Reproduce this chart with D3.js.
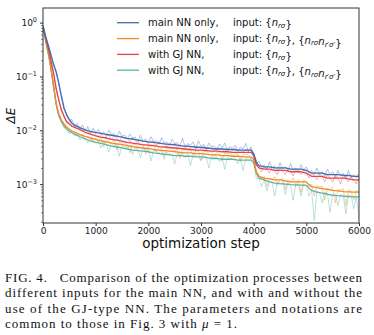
<!DOCTYPE html>
<html><head><meta charset="utf-8">
<script src="https://cdn.jsdelivr.net/npm/d3@7"></script>
<style>
html,body{margin:0;padding:0;background:#fff;}
svg{display:block;}
.cap{font-family:'Liberation Serif','Times New Roman',serif;}
</style></head>
<body>
<svg id="chart" width="374" height="335"></svg>
<script>
// ---------- data ----------
const seriesNames = ["main NN only, input n", "main NN only, input n, nn", "with GJ NN, input n", "with GJ NN, input n, nn"];
const xTicks = [0, 1000, 2000, 3000, 4000, 5000, 6000];
const yMajorTicks = [1, 0.1, 0.01, 0.001];
const yTickExponents = ["0", "\u22121", "\u22122", "\u22123"];

const smoothSteps = [0,50,100,150,200,250,300,350,400,450,500,550,600,700,800,900,1000,1100,1200,1300,1400,1500,1600,1700,1800,1900,2000,2100,2200,2300,2400,2500,2600,2700,2800,2900,3000,3100,3200,3300,3400,3500,3600,3700,3800,3900,3950,4000,4050,4100,4200,4300,4400,4500,4600,4700,4800,4900,5000,5050,5100,5200,5300,5400,5500,5600,5700,5800,5900,6000];

const smoothBlue = [0.85,0.55,0.38,0.25,0.17,0.12,0.075,0.042,0.026,0.019,0.016,0.0135,0.0125,0.0112,0.0102,0.0096,0.0092,0.0088,0.0084,0.0081,0.0078,0.0075,0.0071,0.0069,0.0066,0.0063,0.0061,0.0060,0.0058,0.0056,0.0055,0.0054,0.0052,0.0051,0.0050,0.0049,0.0048,0.0047,0.0046,0.0045,0.0045,0.0044,0.0044,0.0043,0.0043,0.0043,0.0043,0.0037,0.0026,0.0022,0.0021,0.0021,0.0020,0.0020,0.0020,0.0019,0.0019,0.0019,0.0018,0.0017,0.0016,0.0016,0.0016,0.0015,0.0015,0.0015,0.00145,0.00145,0.0014,0.0014];
const smoothOrange = [0.85,0.48,0.28,0.15,0.07,0.032,0.02,0.0155,0.013,0.0115,0.0105,0.0097,0.0092,0.0083,0.0077,0.0072,0.0068,0.0064,0.0061,0.0058,0.0056,0.0054,0.0052,0.0050,0.0048,0.0047,0.0046,0.0044,0.0043,0.0042,0.0041,0.0040,0.0039,0.0038,0.0038,0.0037,0.0037,0.0036,0.0035,0.0035,0.0034,0.0034,0.0033,0.0033,0.0032,0.0032,0.0032,0.0029,0.0017,0.0014,0.0013,0.00125,0.0012,0.0012,0.00115,0.0011,0.0011,0.0011,0.0011,0.00098,0.0009,0.00086,0.00083,0.0008,0.00077,0.00075,0.00073,0.00072,0.00071,0.00071];
const smoothRed = [0.85,0.52,0.34,0.2,0.115,0.06,0.036,0.024,0.018,0.0145,0.013,0.012,0.0113,0.0103,0.0092,0.0085,0.0079,0.0075,0.0072,0.0068,0.0066,0.0063,0.0060,0.0058,0.0056,0.0054,0.0053,0.0052,0.0050,0.0049,0.0048,0.0047,0.0046,0.0045,0.0044,0.0043,0.0043,0.0042,0.0041,0.0041,0.0040,0.0040,0.0039,0.0039,0.0039,0.0039,0.0039,0.0034,0.0023,0.0020,0.0019,0.0019,0.0018,0.0018,0.0018,0.0017,0.0017,0.0017,0.0016,0.0015,0.0014,0.0014,0.0014,0.0013,0.0013,0.0013,0.0013,0.00125,0.0012,0.0012];
const smoothTeal = [0.85,0.47,0.27,0.14,0.065,0.03,0.019,0.0145,0.012,0.0105,0.0096,0.009,0.0085,0.0076,0.0069,0.0064,0.0060,0.0057,0.0054,0.0051,0.0049,0.0047,0.0045,0.0043,0.0042,0.0041,0.0040,0.0038,0.0037,0.0036,0.0035,0.0034,0.0034,0.0033,0.0033,0.0032,0.0032,0.0031,0.0030,0.0030,0.0029,0.0029,0.0029,0.0028,0.0028,0.0028,0.0028,0.0025,0.0016,0.0013,0.0012,0.0011,0.00105,0.00102,0.001,0.00098,0.00097,0.00096,0.00095,0.00085,0.00077,0.00071,0.00068,0.00065,0.00062,0.00061,0.0006,0.00059,0.00058,0.00058];

const rawSteps = d3.range(0, 6001, 50);
const rawBlue = [0.9,0.6,0.36,0.27,0.16,0.13,0.07,0.046,0.024,0.021,0.015,0.016,0.0115,0.0135,0.0105,0.0125,0.0096,0.0118,0.009,0.011,
  0.0088,0.0104,0.0085,0.0093,0.0079,0.0101,0.0083,0.0087,0.0074,0.0096,0.0077,0.0082,0.0068,0.0086,0.0072,0.0075,0.0063,0.0081,0.0062,0.007,
  0.0059,0.0076,0.0063,0.0064,0.0055,0.0073,0.0058,0.0061,0.0052,0.0068,0.0057,0.0059,0.005,0.0071,0.0049,0.0057,0.0053,0.0061,0.0046,0.0064,
  0.005,0.0055,0.0045,0.0058,0.0049,0.0052,0.0043,0.0056,0.0047,0.0058,0.0042,0.005,0.0046,0.0053,0.0041,0.0049,0.0045,0.0057,0.004,0.0049,
  0.0036,0.0024,0.0027,0.0021,0.0023,0.0019,0.0026,0.0020,0.0022,0.0018,0.0025,0.0019,0.0021,0.0018,0.0024,0.0018,0.0020,0.0017,0.0023,0.0018,0.0021,0.0016,0.0018,0.0015,0.002,0.0015,0.0017,0.0014,0.0019,0.0015,0.0017,0.0013,0.0018,0.0014,0.0016,0.0013,0.0018,0.0013,0.0015,0.0013,0.0016];
const rawOrange = [0.85,0.45,0.3,0.14,0.075,0.03,0.021,0.014,0.0135,0.011,0.0108,0.0088,0.0098,0.0084,0.0076,0.0086,0.0068,0.0078,0.0073,0.0062,
  0.0071,0.0062,0.0074,0.0049,0.0065,0.0063,0.0058,0.0066,0.0043,0.006,0.0058,0.0061,0.0053,0.0038,0.0057,0.0054,0.0049,0.0055,0.0052,0.0036,
  0.0051,0.0049,0.0053,0.0041,0.0048,0.0047,0.0033,0.0047,0.0045,0.0046,0.0042,0.0045,0.003,0.0044,0.0043,0.0041,0.0043,0.0035,0.0042,0.0041,
  0.0028,0.0041,0.004,0.0039,0.0041,0.0033,0.0039,0.0038,0.0027,0.0038,0.0037,0.0038,0.0034,0.0037,0.0036,0.0026,0.0036,0.0035,0.0036,0.0031,
  0.003,0.0016,0.0015,0.0012,0.0014,0.0009,0.0013,0.0012,0.0014,0.00095,0.0012,0.0013,0.0008,0.0012,0.0011,0.0013,0.0009,0.0012,0.0007,0.0012,0.0011,0.0009,0.001,0.0006,0.00095,0.00088,0.00092,0.0005,0.00085,0.0008,0.00088,0.00045,0.0008,0.00078,0.00082,0.0004,0.00078,0.00074,0.0005,0.00076,0.00073];
const rawRed = [0.8,0.5,0.36,0.19,0.12,0.055,0.038,0.022,0.019,0.0135,0.0145,0.0115,0.0125,0.0108,0.0112,0.0096,0.0103,0.0092,0.0088,0.0094,
  0.0084,0.0074,0.0089,0.0072,0.0077,0.0083,0.0066,0.0079,0.0071,0.0064,0.0076,0.0069,0.0072,0.0061,0.0071,0.0066,0.0058,0.0069,0.0062,0.0064,
  0.0055,0.0063,0.0059,0.0053,0.0061,0.0056,0.0058,0.005,0.0056,0.0053,0.0057,0.0048,0.0053,0.0051,0.0046,0.0054,0.0049,0.0051,0.0044,0.0049,
  0.0047,0.0052,0.0043,0.0047,0.0046,0.0041,0.0048,0.0045,0.0046,0.0040,0.0046,0.0044,0.0042,0.0047,0.0041,0.0044,0.0039,0.0045,0.0042,0.0044,
  0.0036,0.0022,0.0022,0.0017,0.0021,0.0019,0.0016,0.0021,0.0018,0.0015,0.002,0.0018,0.0015,0.0019,0.0018,0.0014,0.0019,0.0017,0.0015,0.0019,0.0016,0.0013,0.0016,0.0014,0.0012,0.0016,0.0014,0.0011,0.0015,0.0013,0.0011,0.0015,0.0013,0.001,0.0015,0.0013,0.0011,0.0014,0.0012,0.001,0.0014];
const rawTeal = [0.8,0.44,0.25,0.15,0.06,0.032,0.017,0.0155,0.011,0.0112,0.0085,0.0096,0.0078,0.0088,0.0066,0.0078,0.0071,0.0058,0.0068,0.0062,
  0.0058,0.0066,0.0047,0.0061,0.0056,0.0039,0.0058,0.0051,0.0055,0.0033,0.0052,0.0049,0.0046,0.0053,0.0036,0.0047,0.0045,0.0031,0.0046,0.0043,
  0.0044,0.0027,0.0042,0.0041,0.0038,0.0043,0.0029,0.0039,0.0037,0.0036,0.0024,0.0038,0.0035,0.0037,0.0031,0.0036,0.0022,0.0035,0.0034,0.0033,
  0.0027,0.0034,0.0032,0.002,0.0033,0.0031,0.0032,0.0026,0.0031,0.0019,0.0031,0.0030,0.0029,0.0031,0.0024,0.0030,0.0018,0.0030,0.0029,0.0030,
  0.0025,0.0013,0.0013,0.0009,0.0012,0.00075,0.0011,0.0011,0.0006,0.0011,0.001,0.0011,0.00065,0.00105,0.001,0.0005,0.001,0.00098,0.0006,0.001,0.00095,0.0006,0.00078,0.00021,0.00075,0.0007,0.00045,0.00072,0.00068,0.0003,0.00066,0.00065,0.0004,0.00064,0.00062,0.00028,0.00062,0.0006,0.00035,0.0006,0.00022];

const colors = ["#3d6db2", "#f28a1e", "#e6434e", "#5db5a8"];
const legendLabelA = ["main NN only,", "main NN only,", "with GJ NN,", "with GJ NN,"];
const legendHasPair = [false, true, false, true];

const captionLines = [
  "FIG. 4.   Comparison of the optimization processes between",
  "different inputs for the main NN, and with and without the",
  "use of the GJ-type NN. The parameters and notations are"
];

// ---------- layout ----------
const svg = d3.select("#chart");
const L = 43, R = 359, T = 8, B = 223;
const x = d3.scaleLinear().domain([0, 6000]).range([L, R]);
const y = d3.scaleLog().domain([1.9e-4, 1.87]).range([B, T]);

svg.append("defs").append("clipPath").attr("id", "clip")
  .append("rect").attr("x", L).attr("y", T).attr("width", R - L).attr("height", B - T);

const plot = svg.append("g").attr("clip-path", "url(#clip)");
const raws = [rawBlue, rawOrange, rawRed, rawTeal];
const smooths = [smoothBlue, smoothOrange, smoothRed, smoothTeal];

const rawLine = d3.line().x((d, i) => x(rawSteps[i])).y(d => y(d));
const smLine = d3.line().x((d, i) => x(smoothSteps[i])).y(d => y(d));

[0, 2, 1, 3].forEach(k => {
  plot.append("path").attr("d", rawLine(raws[k])).attr("fill", "none")
    .attr("stroke", colors[k]).attr("stroke-opacity", 0.4).attr("stroke-width", 1);
});
[3, 1, 2, 0].forEach(k => {
  plot.append("path").attr("d", smLine(smooths[k])).attr("fill", "none")
    .attr("stroke", colors[k]).attr("stroke-width", 1.3).attr("stroke-linejoin", "round");
});

// ---------- axes ----------
const fontAx = "DejaVu Sans, sans-serif";
const xAxis = svg.append("g").attr("transform", `translate(0,${B})`)
  .call(d3.axisBottom(x).tickValues(xTicks).tickSize(3).tickPadding(1.5).tickFormat(d3.format("d")));
xAxis.select(".domain").remove();
xAxis.selectAll("text").attr("font-family", fontAx).attr("font-size", 9).attr("fill", "#222");
xAxis.selectAll("line").attr("stroke", "#333");

const yMinor = [];
[1e-4, 1e-3, 1e-2, 1e-1, 1].forEach(dec => { for (let m = 2; m <= 9; m++) { const v = dec * m; if (v >= 1.9e-4 && v <= 1.87) yMinor.push(v); } });
const yMinAx = svg.append("g").attr("transform", `translate(${L},0)`)
  .call(d3.axisLeft(y).tickValues(yMinor).tickSize(2).tickFormat(""));
yMinAx.select(".domain").remove();
yMinAx.selectAll("line").attr("stroke", "#333").attr("stroke-width", 0.6);

const yAxis = svg.append("g").attr("transform", `translate(${L},0)`)
  .call(d3.axisLeft(y).tickValues(yMajorTicks).tickSize(3).tickPadding(3).tickFormat(""));
yAxis.select(".domain").remove();
yAxis.selectAll("line").attr("stroke", "#333");
yAxis.selectAll(".tick").each(function(d, i) {
  const t = d3.select(this).select("text")
    .attr("font-family", fontAx).attr("font-size", 9).attr("fill", "#222").attr("dy", "0.32em");
  t.text("10");
  t.append("tspan").attr("dy", "-0.55em").attr("font-size", 6.5).text(yTickExponents[i]);
});

svg.append("rect").attr("x", L).attr("y", T).attr("width", R - L).attr("height", B - T)
  .attr("fill", "none").attr("stroke", "#333").attr("stroke-width", 1);

svg.append("text").attr("x", (L + R) / 2).attr("y", 248).attr("text-anchor", "middle")
  .attr("font-family", fontAx).attr("font-size", 13.5).attr("fill", "#111").text("optimization step");

svg.append("text").attr("transform", `translate(15,${(T + B) / 2}) rotate(-90)`).attr("text-anchor", "middle")
  .attr("font-family", fontAx).attr("font-size", 12).attr("font-style", "italic").attr("fill", "#111").text("ΔE");

// ---------- legend ----------
const lg = svg.append("g");
const rowY = [22.7, 38.6, 54.4, 70.2];
function nSym(t, sub) {
  t.append("tspan").attr("font-style", "italic").text("n");
  t.append("tspan").attr("font-style", "italic").attr("font-size", 7).attr("dy", "0.25em").text(sub);
  t.append("tspan").attr("dy", "-0.25em").attr("font-size", 1).text("\u200a");
}
rowY.forEach((ry, k) => {
  lg.append("line").attr("x1", 117).attr("x2", 139).attr("y1", ry).attr("y2", ry)
    .attr("stroke", colors[k]).attr("stroke-width", 1.3);
  lg.append("text").attr("x", 148).attr("y", ry + 3.6).attr("font-family", fontAx).attr("font-size", 10)
    .attr("fill", "#111").text(legendLabelA[k]);
  const t = lg.append("text").attr("x", 233).attr("y", ry + 3.6).attr("font-family", fontAx)
    .attr("font-size", 10).attr("fill", "#111");
  t.append("tspan").text("input: {");
  nSym(t, "r\u03c3");
  t.append("tspan").text("}");
  if (legendHasPair[k]) {
    t.append("tspan").text(", {");
    nSym(t, "r\u03c3");
    nSym(t, "r\u2032\u03c3\u2032");
    t.append("tspan").text("}");
  }
});

// ---------- caption ----------
const capBase = [281.5, 297, 312.5];
captionLines.forEach((s, i) => {
  svg.append("text").attr("class", "cap").attr("x", 5).attr("y", capBase[i])
    .attr("font-size", 13).attr("fill", "#111").attr("textLength", 357).attr("lengthAdjust", "spacing")
    .style("white-space", "pre").text(s);
});
const last = svg.append("text").attr("class", "cap").attr("x", 5).attr("y", 328)
  .attr("font-size", 13).attr("fill", "#111").attr("textLength", 232).attr("lengthAdjust", "spacing");
last.append("tspan").text("common to those in Fig. 3 with ");
last.append("tspan").attr("font-style", "italic").text("\u03bc");
last.append("tspan").text(" = 1.");
</script>
</body></html>
